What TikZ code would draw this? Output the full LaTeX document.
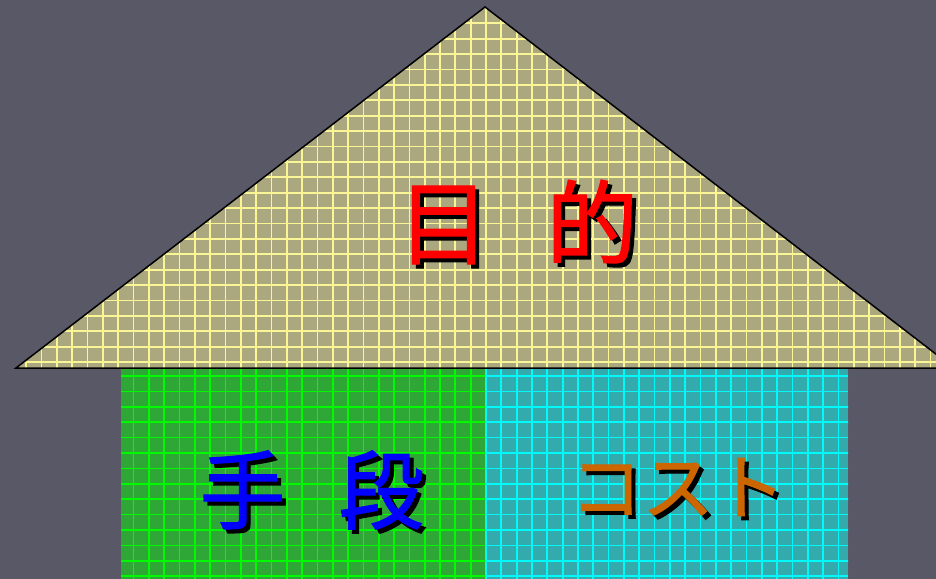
\documentclass[tikz,border=0pt]{standalone}
\usepackage{fontspec}
\newfontfamily\jp{Noto Sans CJK JP}[FakeBold=1.3]
\definecolor{bg}{RGB}{88,88,102}
\definecolor{roof}{RGB}{171,167,127}
\definecolor{roofline}{RGB}{250,246,150}
\definecolor{meansfill}{RGB}{47,167,55}
\definecolor{meansline}{RGB}{0,250,0}
\definecolor{costfill}{RGB}{51,170,172}
\definecolor{costline}{RGB}{0,250,250}
\definecolor{costtext}{RGB}{204,102,0}
\tikzset{
  gridln/.style={line width=1.7bp},
  bigtxt/.style={inner sep=0pt},
}
\newcommand{\jpbig}[1]{\jp\fontsize{#1}{#1}\selectfont}
\newcommand{\shadowed}[2]{\makebox[0pt][l]{\hspace{4bp}\raisebox{-4bp}{\color{black}#2}}{\color{#1}#2}}
\begin{document}
\begin{tikzpicture}[x=1bp,y=-1bp]
\useasboundingbox (0,0) rectangle (936,579);
\fill[bg] (0,0) rectangle (936,579);
% roof
\coordinate (apex) at (485,7);
\coordinate (bl) at (16,368);
\coordinate (br) at (954,368);
\begin{scope}
  \clip (bl) -- (apex) -- (br) -- cycle;
  \fill[roof] (0,0) rectangle (960,370);
  \foreach \k in {-31,...,31} \draw[gridln, roofline] ({486+15.33*\k},0) -- ++(0,380);
  \foreach \k in {-1,...,22} \draw[gridln, roofline] (0,{23.3+15.4*\k}) -- ++(960,0);
\end{scope}
% means
\coordinate (m1) at (121,368);
\coordinate (m2) at (485,579);
\begin{scope}
  \clip (m1) rectangle (m2);
  \fill[meansfill] (m1) rectangle (m2);
  \foreach \k in {-31,...,1} \draw[gridln, meansline] ({486+15.33*\k},360) -- ++(0,230);
  \foreach \k in {0,...,14} \draw[gridln, meansline] (100,{376+15.4*\k}) -- ++(400,0);
\end{scope}
% cost
\coordinate (c1) at (485,368);
\coordinate (c2) at (848,579);
\begin{scope}
  \clip (c1) rectangle (c2);
  \fill[costfill] (c1) rectangle (c2);
  \foreach \k in {0,...,25} \draw[gridln, costline] ({486+15.33*\k},360) -- ++(0,230);
  \foreach \k in {0,...,14} \draw[gridln, costline] (480,{376+15.4*\k}) -- ++(380,0);
\end{scope}
% roof outline
\draw[line width=1.5bp, line join=miter] (bl) -- (apex) -- (br) -- cycle;
% texts
\node[bigtxt, font=\jpbig{92}] (goal) at (518,224) {\shadowed{red}{目\hspace{0.62em}的}};
\node[bigtxt, font=\jpbig{86}] (means) at (312,492) {\shadowed{blue}{手\hspace{0.62em}段}};
\node[bigtxt, font=\jpbig{72}] (cost) at (678,489) {\shadowed{costtext}{コスト}};
\end{tikzpicture}
\end{document}
